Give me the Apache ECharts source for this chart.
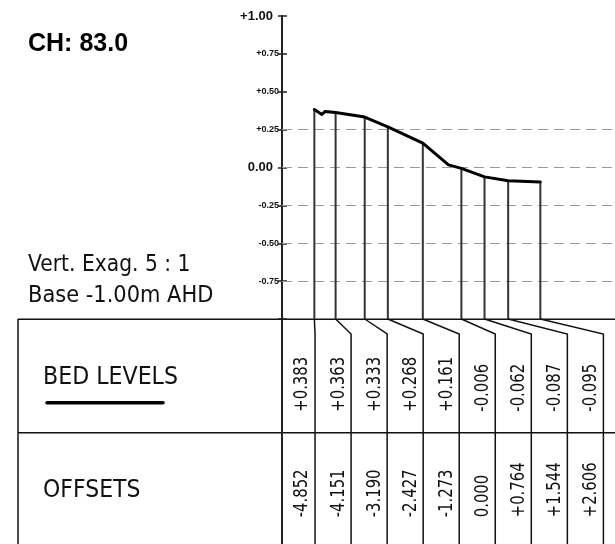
<!DOCTYPE html>
<html>
<head>
<meta charset="utf-8">
<script src="https://cdn.jsdelivr.net/npm/echarts@6/dist/echarts.min.js"></script>
<style>html,body{margin:0;padding:0;background:#fff}#c{width:615px;height:544px}</style>
</head>
<body>
<div id="c"></div>
<script>
// ---------- data ----------
const chainageTitle = 'CH: 83.0';
const noteLines = ['Vert. Exag. 5 : 1', 'Base -1.00m AHD'];
const rowTitles = ['BED LEVELS', 'OFFSETS'];
const baseLevel = -1.00;
const stationOffsets = [-4.852, -4.151, -3.190, -2.427, -1.273, 0.000, 0.764, 1.544, 2.606];
const bedLevels      = [0.383, 0.363, 0.333, 0.268, 0.161, -0.006, -0.062, -0.087, -0.095];
const profileOffsets = [-4.852, -4.603, -4.494, -4.151, -3.190, -2.427, -1.273, -0.425, 0.000, 0.764, 1.544, 2.606];
const profileLevels  = [0.383, 0.350, 0.370, 0.363, 0.333, 0.268, 0.161, 0.017, -0.006, -0.062, -0.087, -0.095];
const gridLevels = [0.25, 0.00, -0.25, -0.50, -0.75];
const majorTicks = [1.00, 0.00];

function fmt(v, d) {
  if (Math.abs(v) < 1e-9) return (0).toFixed(d);
  return (v > 0 ? '+' : '-') + Math.abs(v).toFixed(d);
}
function isMajor(v) { return majorTicks.some(m => Math.abs(m - v) < 1e-9); }

const chart = echarts.init(document.getElementById('c'), null, { renderer: 'canvas' });
let stationPx = null;

const TXT = '"DejaVu Sans", sans-serif';

function buildOption() {
  return {
    animation: false,
    backgroundColor: '#fff',
    grid: [
      { left: 282, top: 16, width: 333, height: 303 },
      { left: 279, top: 319, width: 324.4, height: 227 }
    ],
    xAxis: [
      { gridIndex: 0, type: 'value', min: -5.92, max: 5.07, show: false },
      { gridIndex: 1, type: 'category', data: stationOffsets.map(v => fmt(v, 3)), show: false }
    ],
    yAxis: [
      {
        gridIndex: 0, type: 'value', min: -1, max: 1, interval: 0.25, position: 'left',
        axisLine: { show: true, onZero: false, lineStyle: { color: '#222', width: 2 } },
        axisTick: { show: true, inside: false, length: 4, lineStyle: { color: '#222', width: 1.5 } },
        splitLine: { show: false },
        axisLabel: {
          margin: 3, color: '#111', fontFamily: 'Liberation Sans', fontWeight: 'bold', fontSize: 9,
          formatter: v => (v <= -1 + 1e-9 || isMajor(v)) ? '' : fmt(v, 2)
        }
      },
      {
        gridIndex: 0, type: 'value', min: -1, max: 1, interval: 0.25, position: 'left', offset: 0,
        axisLine: { show: false, onZero: false },
        axisTick: { show: true, inside: true, length: 5, lineStyle: { color: '#222', width: 1.5 } },
        splitLine: { show: false },
        axisLabel: {
          margin: 9, color: '#111', fontFamily: 'Liberation Sans', fontWeight: 'bold', fontSize: 13,
          formatter: v => isMajor(v) ? fmt(v, 2) : ''
        }
      },
      { gridIndex: 1, type: 'value', min: 0, max: 2, inverse: true, show: false }
    ],
    graphic: [
      { type: 'text', x: 28, y: 44, style: { text: chainageTitle, font: 'bold 25px "Liberation Sans", Arial, sans-serif', fill: '#000', align: 'left', verticalAlign: 'middle' } },
      { type: 'text', x: 28, y: 264.5, scaleX: 0.87, style: { text: noteLines[0], font: '23.3px ' + TXT, fill: '#111', align: 'left', verticalAlign: 'middle' } },
      { type: 'text', x: 28, y: 296, scaleX: 0.90, style: { text: noteLines[1], font: '23.3px ' + TXT, fill: '#111', align: 'left', verticalAlign: 'middle' } },
      { type: 'text', x: 43, y: 378, scaleX: 0.896, style: { text: rowTitles[0], font: '24.7px ' + TXT, fill: '#111', align: 'left', verticalAlign: 'middle' } },
      { type: 'text', x: 43, y: 491, scaleX: 0.89, style: { text: rowTitles[1], font: '24.7px ' + TXT, fill: '#111', align: 'left', verticalAlign: 'middle' } },
      { type: 'line', shape: { x1: 47, y1: 402.7, x2: 163, y2: 402.7 }, style: { stroke: '#000', lineWidth: 3.5, lineCap: 'round' } },
      { type: 'line', shape: { x1: 18, y1: 319.3, x2: 615, y2: 319.3 }, style: { stroke: '#111', lineWidth: 1.5 } },
      { type: 'line', shape: { x1: 18, y1: 432.7, x2: 615, y2: 432.7 }, style: { stroke: '#111', lineWidth: 1.5 } },
      { type: 'line', shape: { x1: 18, y1: 319, x2: 18, y2: 544 }, style: { stroke: '#111', lineWidth: 1.5 } },
      { type: 'line', shape: { x1: 282, y1: 319, x2: 282, y2: 544 }, style: { stroke: '#222', lineWidth: 2 } }
    ],
    series: [
      {
        type: 'custom', xAxisIndex: 0, yAxisIndex: 0, z: 3, silent: true,
        data: stationOffsets.map((x, i) => [x, bedLevels[i]]),
        renderItem: function (params, api) {
          const p1 = api.coord([api.value(0), api.value(1)]);
          const p2 = api.coord([api.value(0), baseLevel]);
          return { type: 'line', shape: { x1: p1[0], y1: p1[1], x2: p2[0], y2: p2[1] }, style: { stroke: '#333', lineWidth: 2 } };
        }
      },
      {
        type: 'line', xAxisIndex: 0, yAxisIndex: 0, z: 6, silent: true,
        data: profileOffsets.map((x, i) => [x, profileLevels[i]]),
        symbol: 'none',
        lineStyle: { color: '#000', width: 3, join: 'round', cap: 'round' },
        markLine: {
          silent: true, symbol: 'none', z: 2,
          label: { show: false },
          lineStyle: { color: '#9a9a9a', type: [10, 6], width: 1 },
          data: gridLevels.map(v => ({ yAxis: v }))
        }
      },
      {
        id: 'table', type: 'custom', xAxisIndex: 1, yAxisIndex: 2, z: 4, silent: true,
        data: stationOffsets.map((x, i) => [i, x, stationPx ? stationPx[i] : NaN]),
        renderItem: function (params, api) {
          const i = api.value(0);
          const sx = api.value(2);
          const c0 = api.coord([i, 0]);
          const bw = api.size([1, 0])[0];
          const bx = c0[0] + bw / 2;
          const top = c0[1];
          const bottom = api.coord([i, 2])[1];
          const startX = isFinite(sx) ? sx : bx;
          const lx = bx - 12.5;
          return {
            type: 'group',
            children: [
              { type: 'polyline', shape: { points: [[startX, top], [bx, top + 15], [bx, bottom]] }, style: { stroke: '#111', lineWidth: 1.5, fill: 'none' } },
              { type: 'text', x: lx, y: api.coord([i, 0.824])[1], rotation: Math.PI / 2, scaleX: 0.78,
                style: { text: fmt(bedLevels[i], 3), font: '19px ' + TXT, fill: '#111', align: 'left', verticalAlign: 'middle' } },
              { type: 'text', x: lx, y: api.coord([i, 1.762])[1], rotation: Math.PI / 2, scaleX: 0.78,
                style: { text: fmt(stationOffsets[i], 3), font: '19px ' + TXT, fill: '#111', align: 'left', verticalAlign: 'middle' } }
            ]
          };
        }
      }
    ]
  };
}

chart.setOption(buildOption());
stationPx = stationOffsets.map(x => chart.convertToPixel({ xAxisIndex: 0 }, x));
chart.setOption(buildOption());
</script>
</body>
</html>
